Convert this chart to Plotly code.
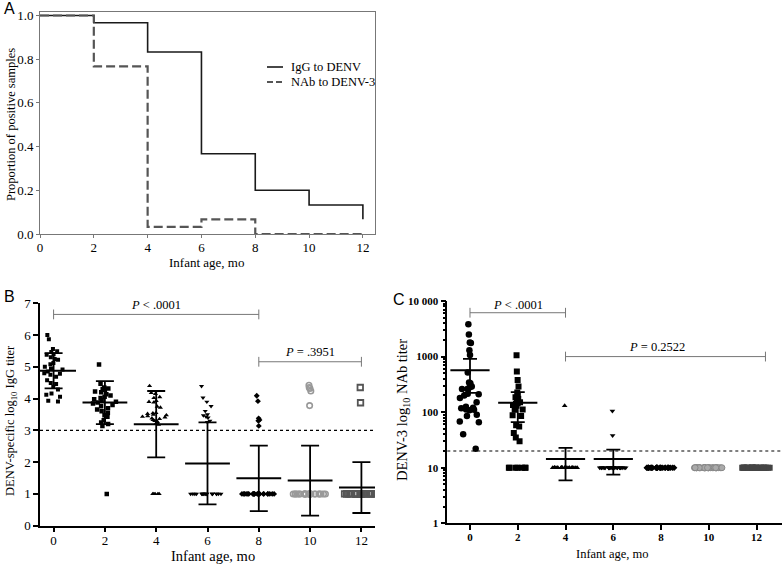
import math
import plotly.graph_objects as go

SERIF = "Liberation Serif"
SANS = "Liberation Sans"

# ---------------- Panel A: proportion of positive samples ----------------
km_months = [0, 2, 4, 6, 8, 10, 12]
igg_positive = [1.0, 0.967, 0.833, 0.367, 0.2, 0.133, 0.067]
nab_positive = [1.0, 0.767, 0.033, 0.067, 0.0, 0.0, 0.0]
km_names = ["IgG to DENV", "NAb to DENV-3"]

# ---------------- Panel B: DENV-specific log10 IgG titer ----------------
months = [0, 2, 4, 6, 8, 10, 12]
igg_m0 = [6.0, 5.87, 5.56, 5.49, 5.47, 5.4, 5.38, 5.3, 5.25, 5.22, 5.12, 5.08, 5.0, 4.95,
          4.92, 4.85, 4.8, 4.78, 4.75, 4.69, 4.58, 4.49, 4.46, 4.37, 4.29, 4.16, 4.12,
          4.06, 3.93, 3.91]
igg_m2 = [5.07, 4.47, 4.35, 4.32, 4.3, 4.28, 4.22, 4.2, 4.14, 4.1, 4.06, 4.02, 3.98, 3.95,
          3.9, 3.88, 3.85, 3.8, 3.76, 3.7, 3.66, 3.6, 3.55, 3.48, 3.43, 3.32, 3.25, 3.2,
          3.14, 1.0]
igg_m4 = [4.4, 4.18, 4.15, 4.05, 4.02, 3.93, 3.9, 3.88, 3.75, 3.72, 3.55, 3.54, 3.52, 3.5,
          3.48, 3.45, 3.43, 3.41, 3.38, 3.36, 3.33, 3.3, 3.27, 3.22, 3.18,
          1.0, 1.0, 1.0, 1.0, 1.0]
igg_m6 = [4.39, 4.03, 3.9, 3.76, 3.61, 3.5, 3.47, 3.43, 3.4, 3.3, 3.26,
          1.0, 1.0, 1.0, 1.0, 1.0, 1.0, 1.0, 1.0, 1.0, 1.0, 1.0, 1.0, 1.0, 1.0, 1.0, 1.0,
          1.0, 1.0, 1.0]
igg_m8 = [4.09, 3.92, 3.38, 3.33, 3.3, 3.14,
          1.0, 1.0, 1.0, 1.0, 1.0, 1.0, 1.0, 1.0, 1.0, 1.0, 1.0, 1.0, 1.0, 1.0, 1.0, 1.0,
          1.0, 1.0, 1.0, 1.0, 1.0, 1.0, 1.0, 1.0]
igg_m10 = [4.42, 4.35, 4.32, 4.24, 3.78,
           1.0, 1.0, 1.0, 1.0, 1.0, 1.0, 1.0, 1.0, 1.0, 1.0, 1.0, 1.0, 1.0, 1.0, 1.0, 1.0,
           1.0, 1.0, 1.0, 1.0, 1.0, 1.0, 1.0, 1.0, 1.0]
igg_m12 = [4.35, 3.87,
           1.0, 1.0, 1.0, 1.0, 1.0, 1.0, 1.0, 1.0, 1.0, 1.0, 1.0, 1.0, 1.0, 1.0, 1.0, 1.0,
           1.0, 1.0, 1.0, 1.0, 1.0, 1.0, 1.0, 1.0, 1.0, 1.0, 1.0, 1.0]
igg_means = [4.875, 3.875, 3.195, 1.96, 1.49, 1.42, 1.2]
igg_sd = [0.555, 0.675, 1.045, 1.29, 1.03, 1.1, 0.8]
igg_cutoff = 3
igg_p1 = {"x": [0, 8], "y": 6.65, "label": "<i>P</i> < .0001"}
igg_p2 = {"x": [8, 12], "y": 5.16, "label": "<i>P</i> = .3951"}

# ---------------- Panel C: DENV-3 NAb titer ----------------
nab_m0 = [3800, 2500, 1800, 1750, 1300, 1070, 515, 340, 330, 290, 280, 265, 260, 215, 210,
          200, 180, 150, 125, 120, 118, 112, 110, 108, 90, 85, 68, 66, 40, 22]
nab_m2 = [1060, 540, 380, 290, 225, 200, 185, 180, 175, 150, 145, 140, 135, 130, 112, 110,
          88, 85, 58, 55, 42, 35, 30, 10, 10, 10, 10, 10, 10, 10]
nab_m4 = [130, 10, 10, 10, 10, 10, 10, 10, 10, 10, 10, 10, 10, 10, 10, 10, 10, 10, 10, 10,
          10, 10, 10, 10, 10, 10, 10, 10, 10, 10]
nab_m6 = [105, 38, 10, 10, 10, 10, 10, 10, 10, 10, 10, 10, 10, 10, 10, 10, 10, 10, 10, 10,
          10, 10, 10, 10, 10, 10, 10, 10, 10, 10]
nab_m8 = [10, 10, 10, 10, 10, 10, 10, 10, 10, 10, 10, 10, 10, 10, 10, 10, 10, 10, 10, 10,
          10, 10, 10, 10, 10, 10, 10, 10, 10, 10]
nab_m10 = [10, 10, 10, 10, 10, 10, 10, 10, 10, 10, 10, 10, 10, 10, 10, 10, 10, 10, 10, 10,
           10, 10, 10, 10, 10, 10, 10, 10, 10, 10]
nab_m12 = [10, 10, 10, 10, 10, 10, 10, 10, 10, 10, 10, 10, 10, 10, 10, 10, 10, 10, 10, 10,
           10, 10, 10, 10, 10, 10, 10, 10, 10, 10]
nab_mean_months = [0, 2, 4, 6]
nab_means = [566, 148, 14.3, 14.3]
nab_err = [343, 82, 8.4, 6.8]
nab_cutoff = 20
nab_p1 = {"x": [0, 4], "y": 6150, "label": "<i>P</i> < .0001"}
nab_p2 = {"x": [4, 12.37], "y": 1000, "label": "<i>P</i> = 0.2522"}
nab_ticks = [1, 10, 100, 1000, 10000]
nab_ticktext = ["1", "10", "100", "1000", "10 000"]
nab_minor_ticks = [d * 10 ** e for e in range(4) for d in range(2, 10)]

fig = go.Figure()

# ---- Panel A traces
km_styles = [dict(color="#1a1a1a", width=1.6),
             dict(color="#555555", width=2.2, dash="9px,4px")]
for name, vals, st in zip(km_names, [igg_positive, nab_positive], km_styles):
    fig.add_trace(go.Scatter(x=km_months, y=vals, mode="lines", line_shape="hv",
                             name=name, line=st, showlegend=False, hoverinfo="skip",
                             xaxis="x", yaxis="y"))

# ---- Panel B points
b_groups = [igg_m0, igg_m2, igg_m4, igg_m6, igg_m8, igg_m10, igg_m12]
b_markers = [
    dict(symbol="square", size=4, color="black"),
    dict(symbol="square", size=4.5, color="black"),
    dict(symbol="triangle-up", size=4.5, color="black"),
    dict(symbol="triangle-down", size=4.5, color="black"),
    dict(symbol="diamond", size=4.5, color="black"),
    dict(symbol="circle-open", size=5.5, color="#999999", line=dict(width=1.6, color="#999999")),
    dict(symbol="square-open", size=5.5, color="#555555", line=dict(width=1.8, color="#555555")),
]
b_jitter = [0.6, 0.75, 0.85, 1.0, 1.0, 1.0, 1.0]
for m, vals, mk, jit in zip(months, b_groups, b_markers, b_jitter):
    fig.add_trace(go.Box(y=vals, x0=m, boxpoints="all", jitter=jit, pointpos=0,
                         width=1.35, fillcolor="rgba(0,0,0,0)",
                         line=dict(width=0, color="rgba(0,0,0,0)"), whiskerwidth=0,
                         marker=mk, showlegend=False, hoverinfo="skip",
                         xaxis="x2", yaxis="y2"))
fig.add_trace(go.Scatter(x=months, y=igg_means, mode="markers",
                         marker=dict(symbol="line-ew", size=32, color="black",
                                     line=dict(width=2, color="black")),
                         error_y=dict(type="data", array=igg_sd, width=9, thickness=1.8,
                                      color="black"),
                         showlegend=False, hoverinfo="skip", xaxis="x2", yaxis="y2"))
for p in (igg_p1, igg_p2):
    fig.add_trace(go.Scatter(x=p["x"], y=[p["y"], p["y"]], mode="lines+markers",
                             line=dict(color="#777777", width=1),
                             marker=dict(symbol="line-ns", size=7,
                                         line=dict(width=1, color="#777777")),
                             showlegend=False, hoverinfo="skip", xaxis="x2", yaxis="y2"))

# ---- Panel C points
c_groups = [nab_m0, nab_m2, nab_m4, nab_m6, nab_m8, nab_m10, nab_m12]
c_markers = [
    dict(symbol="circle", size=6.5, color="black"),
    dict(symbol="square", size=6, color="black"),
    dict(symbol="triangle-up", size=5, color="black"),
    dict(symbol="triangle-down", size=5, color="black"),
    dict(symbol="diamond", size=5, color="black"),
    dict(symbol="circle", size=6, color="#aaaaaa", line=dict(width=1, color="#888888")),
    dict(symbol="square", size=6, color="#444444"),
]
c_jitter = [0.9, 0.9, 0.85, 0.9, 0.95, 0.95, 0.95]
for m, vals, mk, jit in zip(months, c_groups, c_markers, c_jitter):
    fig.add_trace(go.Box(y=vals, x0=m, boxpoints="all", jitter=jit, pointpos=0,
                         width=1.3, fillcolor="rgba(0,0,0,0)",
                         line=dict(width=0, color="rgba(0,0,0,0)"), whiskerwidth=0,
                         marker=mk, showlegend=False, hoverinfo="skip",
                         xaxis="x3", yaxis="y3"))
fig.add_trace(go.Scatter(x=nab_mean_months, y=nab_means, mode="markers",
                         marker=dict(symbol="line-ew", size=28, color="black",
                                     line=dict(width=2, color="black")),
                         error_y=dict(type="data", array=nab_err, width=7, thickness=1.8,
                                      color="black"),
                         showlegend=False, hoverinfo="skip", xaxis="x3", yaxis="y3"))
for p in (nab_p1, nab_p2):
    fig.add_trace(go.Scatter(x=p["x"], y=[p["y"], p["y"]], mode="lines+markers",
                             line=dict(color="#777777", width=1),
                             marker=dict(symbol="line-ns", size=7,
                                         line=dict(width=1, color="#777777")),
                             showlegend=False, hoverinfo="skip", xaxis="x3", yaxis="y3"))

# ---- cutoff lines + legend samples
shapes = [
    dict(type="line", xref="x2 domain", yref="y2", x0=0, x1=1, y0=igg_cutoff, y1=igg_cutoff,
         line=dict(color="black", width=1.2, dash="dot")),
    dict(type="line", xref="x3 domain", yref="y3", x0=0, x1=1,
         y0=nab_cutoff, y1=nab_cutoff,
         line=dict(color="black", width=1.2, dash="dot")),
]
legend_rows = [67, 82]
annotations = []
for name, st, row in zip(km_names, km_styles, legend_rows):
    shapes.append(dict(type="line", xref="paper", yref="paper",
                       x0=267 / 783, x1=283 / 783, y0=1 - row / 565, y1=1 - row / 565,
                       line=dict(color=st["color"], width=st["width"],
                                 dash=("6px,3px" if "dash" in st else "solid"))))
    annotations.append(dict(text=name, x=289 / 783, y=1 - row / 565, xref="paper",
                            yref="paper", xanchor="left", yanchor="middle", showarrow=False,
                            font=dict(family=SERIF, size=12.5, color="black")))


def paper_text(text, cx, cy, size, family=SERIF, angle=0):
    return dict(text=text, x=cx / 783, y=1 - cy / 565, xref="paper", yref="paper",
                xanchor="center", yanchor="middle", showarrow=False, textangle=angle,
                borderpad=0, font=dict(family=family, size=size, color="black"))


annotations += [
    paper_text("A", 9, 9, 16, SANS),
    paper_text("B", 9, 296, 16, SANS),
    paper_text("C", 399, 299, 16, SANS),
    # axis titles
    paper_text("Infant age, mo", 206, 263, 13),
    paper_text("Proportion of positive samples", 11, 125, 12.5, angle=-90),
    paper_text("Infant age, mo", 213, 556, 14.5),
    paper_text("DENV-specific log<sub>10</sub> IgG titer", 11, 421, 12.5, angle=-90),
    paper_text("Infant age, mo", 612, 554, 12.5),
    paper_text("DENV-3 log<sub>10</sub> NAb titer", 403, 410, 14.5, angle=-90),
]
for p, sh in ((igg_p1, 9), (igg_p2, 10)):
    annotations.append(dict(text=p["label"], x=sum(p["x"]) / 2, y=p["y"], xref="x2",
                            yref="y2", yshift=sh, showarrow=False,
                            font=dict(family=SERIF, size=12.5, color="black")))
for p, sh, dx in ((nab_p1, 8, 0), (nab_p2, 10, -0.35)):
    annotations.append(dict(text=p["label"], x=sum(p["x"]) / 2 + dx, y=math.log10(p["y"]),
                            xref="x3", yref="y3", yshift=sh, showarrow=False,
                            font=dict(family=SERIF, size=12.5, color="black")))

axis_font = dict(family=SERIF, size=13, color="black")
bold_font = dict(family=SERIF, size=11, color="black", weight="bold")

fig.update_layout(
    width=783, height=565,
    margin=dict(l=0, r=0, t=0, b=0),
    paper_bgcolor="white", plot_bgcolor="white",
    boxmode="overlay", showlegend=False,
    shapes=shapes, annotations=annotations,
    xaxis=dict(domain=[40 / 783, 375 / 783], anchor="y", range=[0, 12.45], automargin=False,
               tickvals=km_months, ticks="outside", ticklen=3, tickcolor="#777777",
               ticklabelstandoff=-2,
               showline=True, mirror=True, linecolor="#777777", linewidth=1,
               showgrid=False, zeroline=False, tickfont=axis_font),
    yaxis=dict(domain=[1 - 234 / 565, 1 - 12 / 565], anchor="x", range=[0, 1.016],
               automargin=False,
               tickvals=[0, 0.2, 0.4, 0.6, 0.8, 1.0], tickformat=".1f",
               ticks="outside", ticklen=3, tickcolor="#777777",
               showline=True, mirror=True, linecolor="#777777", linewidth=1,
               showgrid=False, zeroline=False, tickfont=axis_font),
    xaxis2=dict(domain=[40 / 783, 375 / 783], anchor="y2", range=[-0.53, 12.53],
                automargin=False, ticklabelstandoff=-3,
                tickvals=months, ticks="outside", ticklen=5, tickwidth=1.5, tickcolor="black",
                showline=True, linecolor="black", linewidth=1.5,
                showgrid=False, zeroline=False, tickfont=axis_font),
    yaxis2=dict(domain=[1 - 525.7 / 565, 1 - 303.3 / 565], anchor="x2", range=[0, 7],
                automargin=False,
                dtick=1, ticks="outside", ticklen=5, tickwidth=1.5, tickcolor="black",
                showline=True, linecolor="black", linewidth=1.5,
                showgrid=False, zeroline=False, tickfont=axis_font),
    xaxis3=dict(domain=[447.3 / 783, 781.7 / 783], anchor="y3", range=[-0.95, 13.05],
                automargin=False, ticklabelstandoff=-2,
                tickvals=months, ticks="outside", ticklen=5, tickwidth=1.5, tickcolor="black",
                showline=True, linecolor="black", linewidth=1.5,
                showgrid=False, zeroline=False, tickfont=bold_font),
    yaxis3=dict(domain=[1 - 523.3 / 565, 1 - 301 / 565], anchor="x3", type="log",
                range=[0, 4], tickvals=nab_ticks, ticktext=nab_ticktext, automargin=False,
                ticks="outside", ticklen=5, tickwidth=1.5, tickcolor="black",
                minor=dict(tickmode="array", tickvals=nab_minor_ticks, ticks="outside",
                           ticklen=3, tickcolor="black", showgrid=False),
                showline=True, linecolor="black", linewidth=1.5,
                showgrid=False, zeroline=False, tickfont=bold_font),
)

fig.write_html("out.html", config={"displayModeBar": False},
               post_script="document.body.style.margin='0';document.body.style.overflow='hidden';")
